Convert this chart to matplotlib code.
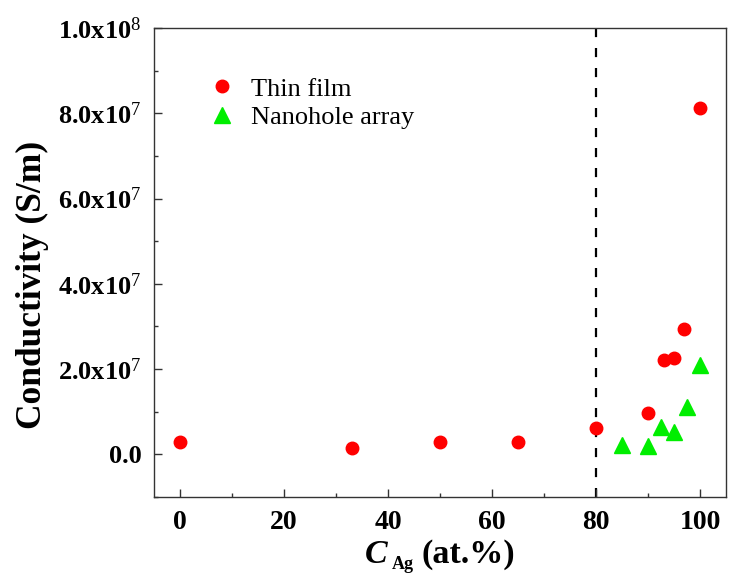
import matplotlib
matplotlib.use("Agg")
import matplotlib.pyplot as plt
from matplotlib.ticker import FixedLocator, MultipleLocator

plt.rcParams["font.family"] = "Liberation Serif"
plt.rcParams["mathtext.fontset"] = "custom"
plt.rcParams["mathtext.rm"] = "Liberation Serif"
plt.rcParams["mathtext.it"] = "Liberation Serif:italic:bold"
plt.rcParams["mathtext.bf"] = "Liberation Serif:bold"

# Thin film conductivity vs Ag content
film_x = [0, 33, 50, 65, 80, 90, 93, 95, 97, 100]
film_y = [3.0e6, 1.4e6, 2.8e6, 2.8e6, 6.2e6, 9.8e6, 22.1e6, 22.5e6, 29.4e6, 81.2e6]

# Nanohole array conductivity vs Ag content
hole_x = [85, 90, 92.5, 95, 97.5, 100]
hole_y = [2.1e6, 1.9e6, 6.4e6, 5.3e6, 11.0e6, 21.0e6]

y_ticks = [0, 2e7, 4e7, 6e7, 8e7, 1e8]
y_tick_labels = ["0.0", "2.0x10$^{7}$", "4.0x10$^{7}$", "6.0x10$^{7}$",
                 "8.0x10$^{7}$", "1.0x10$^{8}$"]
x_ticks = [0, 20, 40, 60, 80, 100]
threshold = 80
x_range = (-5, 105)
y_range = (-1e7, 1e8)

W, H = 729, 577
fig = plt.figure(figsize=(W / 100, H / 100), dpi=100)
ax = fig.add_axes([0.2112, 0.1386, 0.7847, 0.8129])

# dashed threshold line, dash pattern starting at the top spine
ax.plot([threshold, threshold], [y_range[1], y_range[0]], color="black",
        lw=1.6, dashes=(4.1, 4.9), zorder=1, solid_capstyle="butt")
ax.plot(film_x, film_y, "o", color="#ff0000", ms=9, mec="#ff0000",
        ls="none", label="Thin film", zorder=3)
ax.plot(hole_x, hole_y, "^", color="#00ee00", ms=12, mec="#00ee00",
        ls="none", label="Nanohole array", zorder=3)

ax.set_xlim(*x_range)
ax.set_ylim(*y_range)
ax.xaxis.set_major_locator(FixedLocator(x_ticks))
ax.xaxis.set_minor_locator(MultipleLocator(10))
ax.yaxis.set_major_locator(FixedLocator(y_ticks))
ax.yaxis.set_minor_locator(MultipleLocator(1e7))
ax.set_xticklabels([str(v) for v in x_ticks], fontsize=20, fontweight="bold")
ax.set_yticklabels(y_tick_labels, fontsize=19, fontweight="bold")

ax.tick_params(which="both", direction="in", top=False, right=False,
               color="#333333")
ax.tick_params(which="major", length=6, width=1)
ax.tick_params(which="minor", length=3, width=1)
ax.tick_params(axis="x", pad=9)
ax.tick_params(axis="y", pad=9)
for sp in ax.spines.values():
    sp.set_color("#333333")
    sp.set_linewidth(1)

ax.set_ylabel("Conductivity (S/m)", fontsize=25.5, fontweight="bold")
ax.yaxis.set_label_coords(-0.1836, 0.452)

# x-axis title: italic C with a lowered Ag subscript, then the unit
def px(x, y):
    return x / W, 1 - y / H

fig.text(*px(365, 563), "C", fontsize=24.5, fontweight="bold",
         fontstyle="italic", ha="left", va="baseline")
fig.text(*px(392, 569), "Ag", fontsize=13, fontweight="bold",
         ha="left", va="baseline")
fig.text(*px(422, 563), "(at.%)", fontsize=24.5, fontweight="bold",
         ha="left", va="baseline")

ax.legend(loc="upper left", bbox_to_anchor=(0.05, 0.946), frameon=False,
          fontsize=19, handletextpad=0.5, labelspacing=0.2, markerscale=1.0,
          handlelength=1.2)

fig.savefig("out.png", dpi=100)
